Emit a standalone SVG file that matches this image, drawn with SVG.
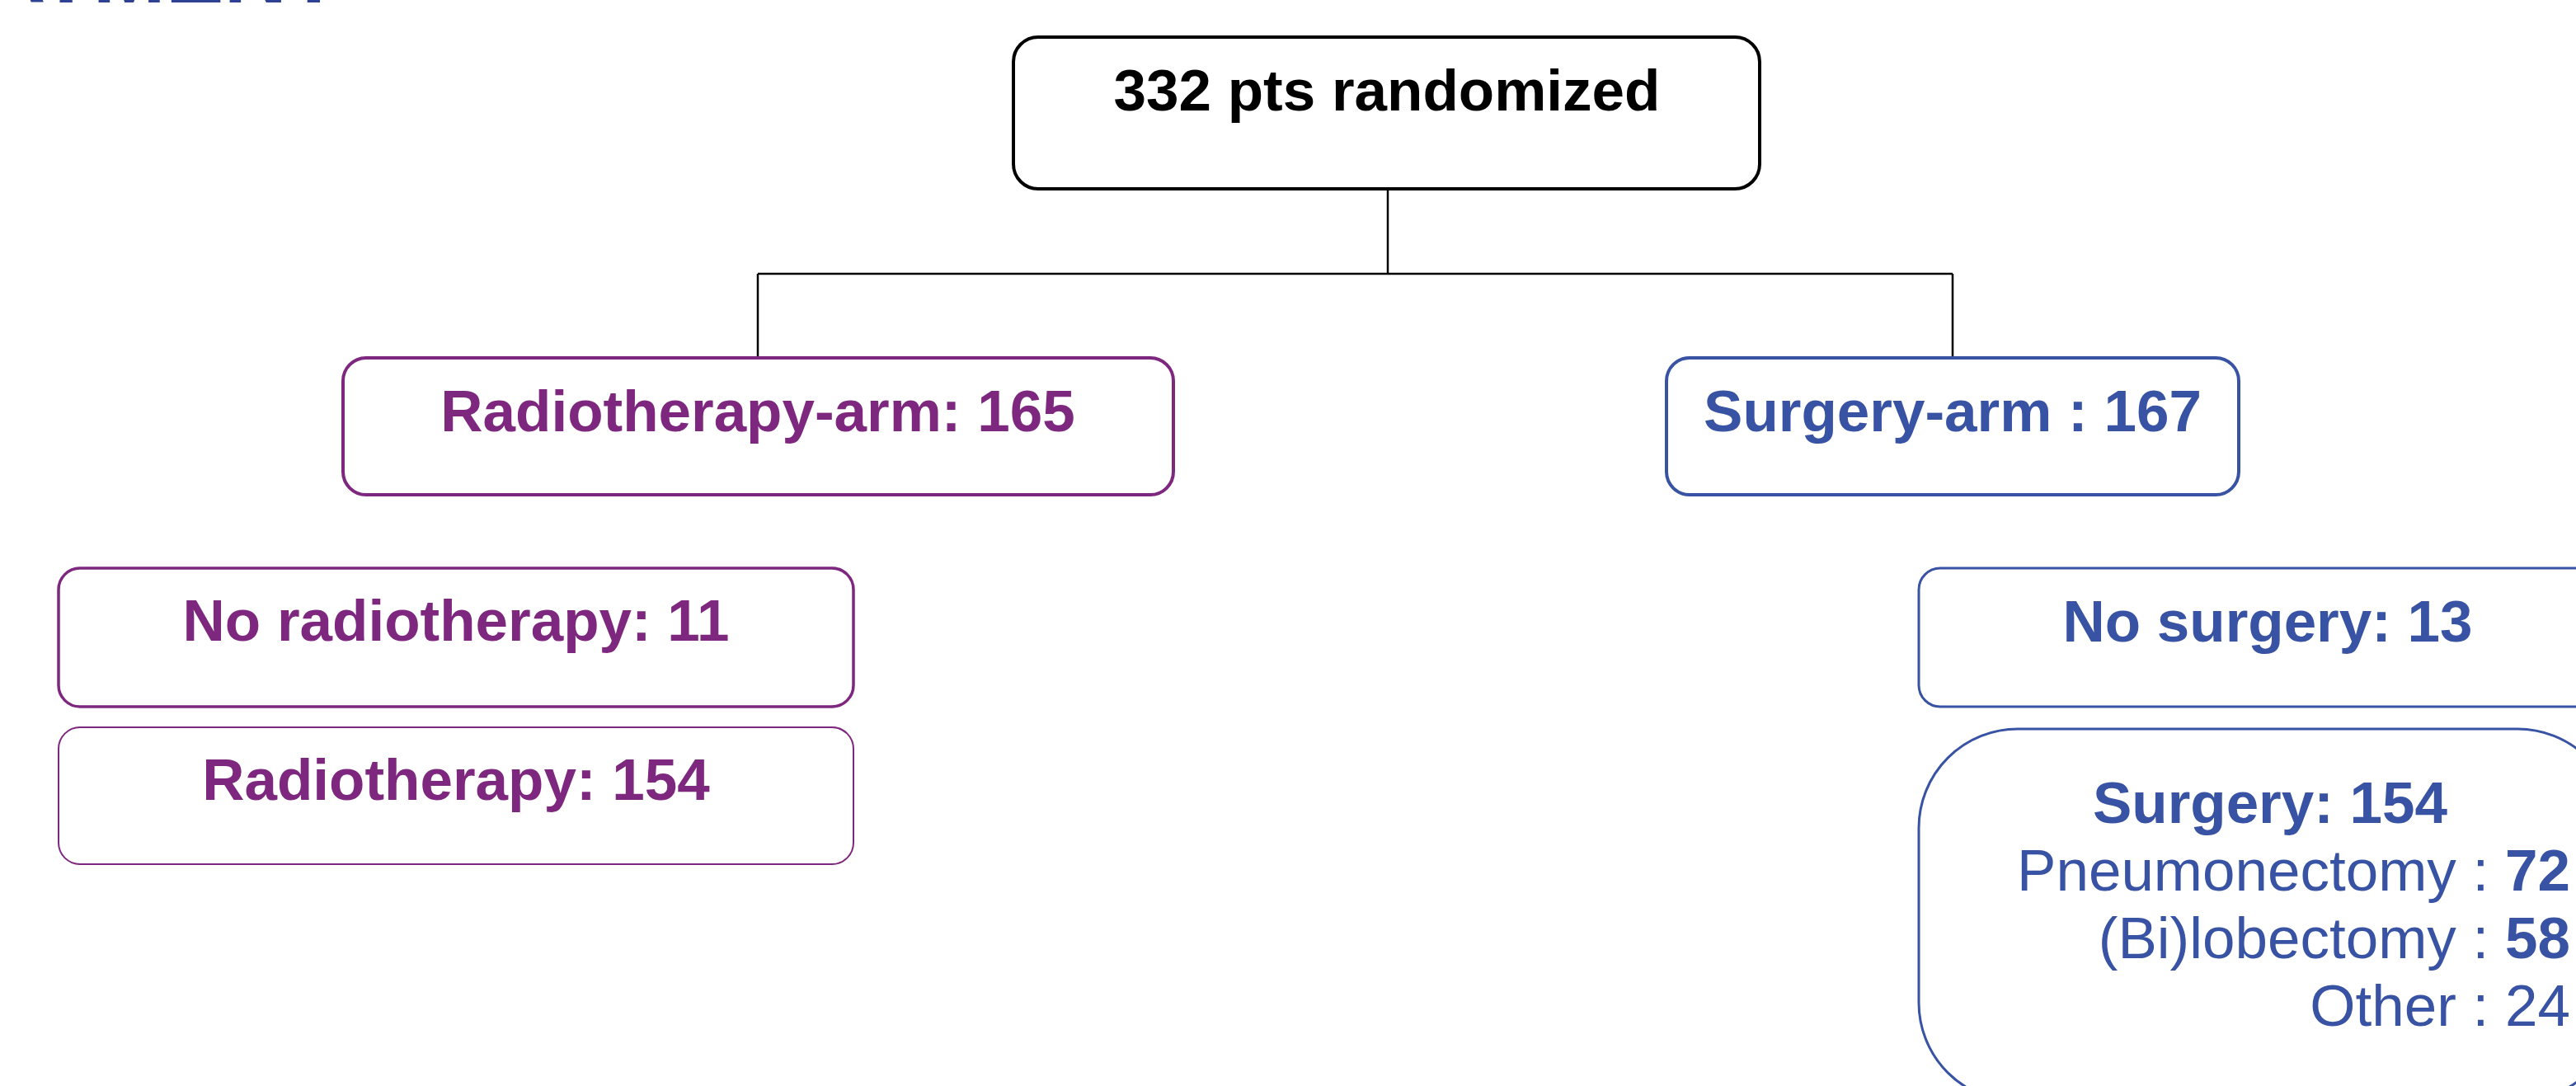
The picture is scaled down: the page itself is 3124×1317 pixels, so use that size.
<svg xmlns="http://www.w3.org/2000/svg" width="3124" height="1317" viewBox="0 0 3124 1317">
<style>
.box{fill:#ffffff;}
.blk{stroke:#000000;stroke-width:4;}
.pur{stroke:#7E277E;}
.blu{stroke:#3953A4;}
.t{font-family:"Liberation Sans",Arial,sans-serif;font-size:71px;text-anchor:middle;}
.b{font-weight:bold;}
.tp{fill:#7E277E;}
.tb{fill:#3953A4;}
.conn{stroke:#000000;stroke-width:2.5;fill:none;}
</style>
<rect width="3124" height="1317" fill="#ffffff"/>
<text x="-21" y="3" font-family="'Liberation Sans',Arial,sans-serif" font-size="106" font-weight="bold" fill="#2E4193">ATMENT</text>
<g id="connectors">
<path class="conn" d="M1683 229 V332 M919 332 H2368 M919 332 V434 M2368 332 V434"/>
</g>
<g id="randomized">
<rect class="box blk" x="1229" y="45" width="905" height="184" rx="30"/>
<text class="t b" x="1682" y="134" fill="#000000">332 pts randomized</text>
</g>
<g id="radio-arm">
<rect class="box pur" stroke-width="4" x="416" y="434" width="1007" height="166" rx="28"/>
<text class="t b tp" x="919" y="523">Radiotherapy-arm: 165</text>
</g>
<g id="surgery-arm">
<rect class="box blu" stroke-width="4" x="2021" y="434" width="694" height="166" rx="28"/>
<text class="t b tb" x="2368" y="523">Surgery-arm : 167</text>
</g>
<g id="no-radio">
<rect class="box pur" stroke-width="3.5" x="71" y="689" width="964" height="168" rx="26"/>
<text class="t b tp" x="553" y="777">No radiotherapy: 11</text>
</g>
<g id="radio">
<rect class="box pur" stroke-width="2" x="71" y="882" width="964" height="166" rx="26"/>
<text class="t b tp" x="553" y="970">Radiotherapy: 154</text>
</g>
<g id="no-surgery">
<rect class="box blu" stroke-width="3" x="2327" y="689" width="846" height="168" rx="26"/>
<text class="t b tb" x="2750" y="778">No surgery: 13</text>
</g>
<g id="surgery">
<rect class="box blu" stroke-width="3" x="2327" y="884" width="846" height="452" rx="120"/>
<text class="t b tb" x="2753" y="998">Surgery: 154</text>
<text class="t tb" x="3117" y="1080" text-anchor="end" style="text-anchor:end">Pneumonectomy : <tspan font-weight="bold">72</tspan></text>
<text class="t tb" x="3117" y="1162" style="text-anchor:end">(Bi)lobectomy : <tspan font-weight="bold">58</tspan></text>
<text class="t tb" x="3117" y="1244" style="text-anchor:end">Other : 24</text>
</g>
</svg>
